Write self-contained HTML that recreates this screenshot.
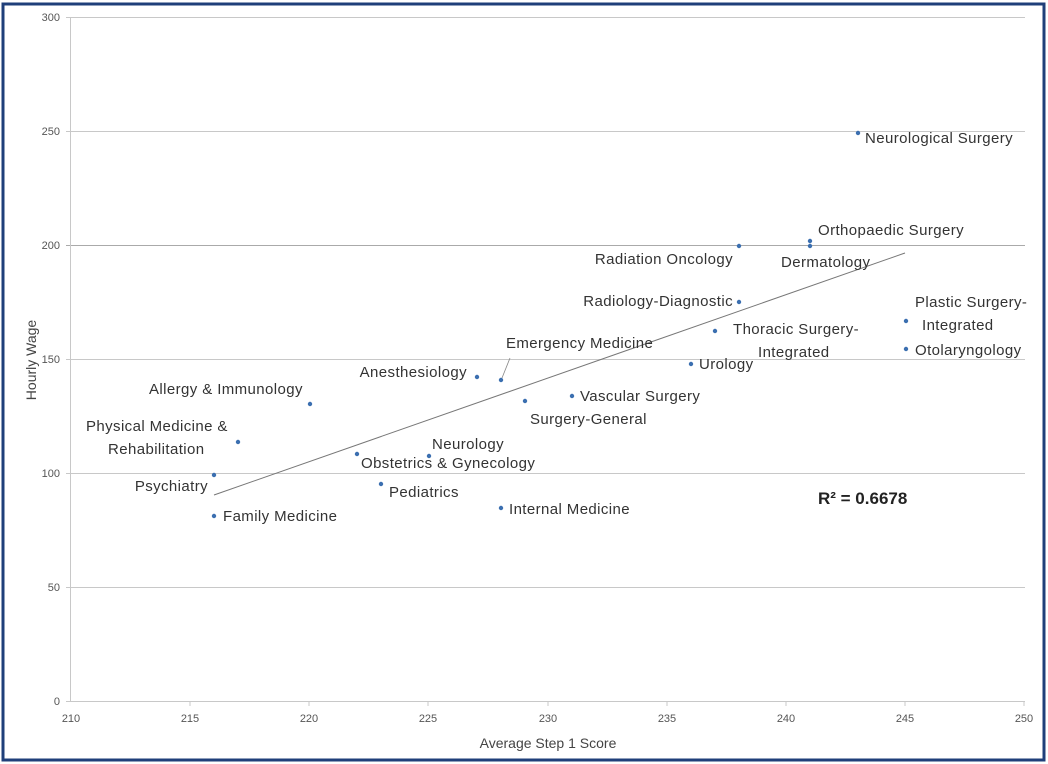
<!DOCTYPE html>
<html><head><meta charset="utf-8"><style>
body{margin:0;background:#fff}
svg{display:block}
text{font-family:"Liberation Sans",sans-serif}
</style></head><body>
<svg width="1048" height="764" viewBox="0 0 1048 764" xmlns="http://www.w3.org/2000/svg">
<rect x="3" y="4" width="1041" height="756" fill="#fff" stroke="#1f3f7a" stroke-width="3"/>
<g stroke="#c8c8c8" stroke-width="1">
<line x1="66" y1="17.5" x2="1025" y2="17.5"/>
<line x1="66" y1="131.5" x2="1025" y2="131.5"/>
<line x1="66" y1="245.5" x2="1025" y2="245.5" stroke="#aaa"/>
<line x1="66" y1="359.5" x2="1025" y2="359.5"/>
<line x1="66" y1="473.5" x2="1025" y2="473.5"/>
<line x1="66" y1="587.5" x2="1025" y2="587.5"/>
<line x1="66" y1="701.5" x2="1025" y2="701.5"/>
<line x1="70.5" y1="17" x2="70.5" y2="702"/>
</g>
<g stroke="#c8c8c8"><line x1="190" y1="702" x2="190" y2="706"/><line x1="309" y1="702" x2="309" y2="706"/><line x1="428" y1="702" x2="428" y2="706"/><line x1="548" y1="702" x2="548" y2="706"/><line x1="667" y1="702" x2="667" y2="706"/><line x1="786" y1="702" x2="786" y2="706"/><line x1="905" y1="702" x2="905" y2="706"/><line x1="1024" y1="702" x2="1024" y2="706"/></g>
<g font-size="11" fill="#555" text-anchor="end">
<text x="60" y="21">300</text><text x="60" y="135">250</text><text x="60" y="249">200</text><text x="60" y="363">150</text><text x="60" y="477">100</text><text x="60" y="591">50</text><text x="60" y="705">0</text>
</g>
<g font-size="11" fill="#555" text-anchor="middle">
<text x="71" y="722">210</text><text x="190" y="722">215</text><text x="309" y="722">220</text><text x="428" y="722">225</text><text x="548" y="722">230</text><text x="667" y="722">235</text><text x="786" y="722">240</text><text x="905" y="722">245</text><text x="1024" y="722">250</text>
</g>
<text x="548" y="748" font-size="14" fill="#444" text-anchor="middle">Average Step 1 Score</text>
<text transform="translate(36,360) rotate(-90)" font-size="14" fill="#444" text-anchor="middle">Hourly Wage</text>
<line x1="214" y1="495" x2="905" y2="253" stroke="#777" stroke-width="1"/>
<line x1="502" y1="378" x2="510" y2="358" stroke="#888" stroke-width="0.8"/>
<g fill="#3b6fb0">
<circle cx="858" cy="133" r="2.2"/><circle cx="810" cy="241" r="2.2"/><circle cx="810" cy="246" r="2.2"/><circle cx="739" cy="246" r="2.2"/><circle cx="739" cy="302" r="2.2"/><circle cx="715" cy="331" r="2.2"/><circle cx="906" cy="321" r="2.2"/><circle cx="906" cy="349" r="2.2"/><circle cx="691" cy="364" r="2.2"/><circle cx="477" cy="377" r="2.2"/><circle cx="501" cy="380" r="2.2"/><circle cx="572" cy="396" r="2.2"/><circle cx="525" cy="401" r="2.2"/><circle cx="310" cy="404" r="2.2"/><circle cx="238" cy="442" r="2.2"/><circle cx="357" cy="454" r="2.2"/><circle cx="429" cy="456" r="2.2"/><circle cx="214" cy="475" r="2.2"/><circle cx="381" cy="484" r="2.2"/><circle cx="214" cy="516" r="2.2"/><circle cx="501" cy="508" r="2.2"/>
</g>
<g font-size="15" fill="#333" letter-spacing="0.4">
<text x="865" y="143">Neurological Surgery</text>
<text x="818" y="235">Orthopaedic Surgery</text>
<text x="733" y="264" text-anchor="end">Radiation Oncology</text>
<text x="781" y="267">Dermatology</text>
<text x="733" y="306" text-anchor="end">Radiology-Diagnostic</text>
<text x="915" y="307">Plastic Surgery-</text>
<text x="922" y="330">Integrated</text>
<text x="733" y="334">Thoracic Surgery-</text>
<text x="758" y="357">Integrated</text>
<text x="915" y="355">Otolaryngology</text>
<text x="506" y="348">Emergency Medicine</text>
<text x="699" y="369">Urology</text>
<text x="467" y="377" text-anchor="end">Anesthesiology</text>
<text x="149" y="394">Allergy &amp; Immunology</text>
<text x="580" y="401">Vascular Surgery</text>
<text x="530" y="424">Surgery-General</text>
<text x="86" y="431">Physical Medicine &amp;</text>
<text x="108" y="454">Rehabilitation</text>
<text x="432" y="449">Neurology</text>
<text x="361" y="468">Obstetrics &amp; Gynecology</text>
<text x="208" y="491" text-anchor="end">Psychiatry</text>
<text x="389" y="497">Pediatrics</text>
<text x="223" y="521">Family Medicine</text>
<text x="509" y="514">Internal Medicine</text>
</g>
<text x="818" y="504" font-size="17" font-weight="bold" fill="#222">R² = 0.6678</text>
</svg>
</body></html>
